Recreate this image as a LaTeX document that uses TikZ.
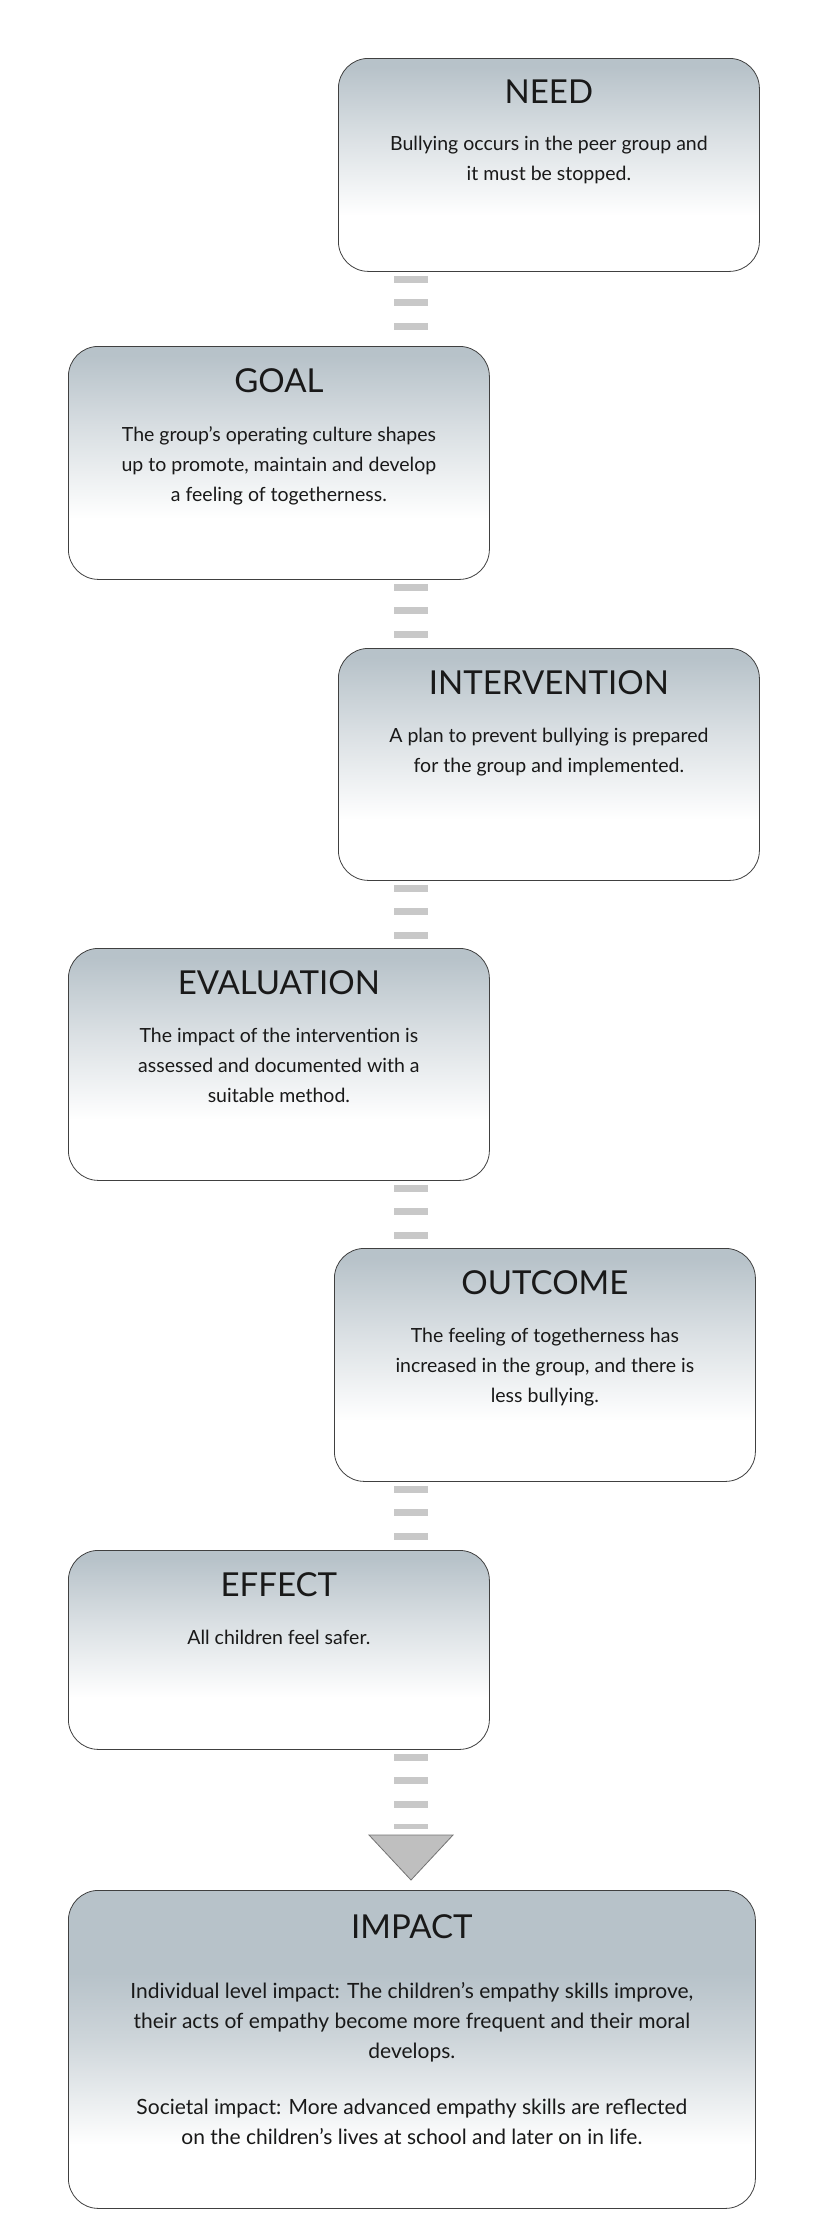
\documentclass[tikz,border=0pt]{standalone}
\usepackage{fontspec}
\setmainfont{Lato}
\usetikzlibrary{backgrounds}
\definecolor{boxgray}{HTML}{B7C2C9}
\definecolor{dashgray}{HTML}{C8C8C8}
\pgfdeclareverticalshading{boxshade}{100bp}{color(0bp)=(white); color(25bp)=(white); color(38bp)=(white); color(58bp)=(boxgray!55); color(73bp)=(boxgray); color(100bp)=(boxgray)}
\pgfdeclareverticalshading{impactshade}{100bp}{color(0bp)=(white); color(25bp)=(white); color(35bp)=(white); color(52bp)=(boxgray!70); color(62bp)=(boxgray); color(100bp)=(boxgray)}
\tikzset{
  stagebox/.style={draw=black!75, line width=0.8pt, rounded corners=30pt, shading=boxshade, minimum width=421pt, inner sep=0pt},
  titletext/.style={anchor=north, font=\fontsize{33}{38}\selectfont, text=black!90, inner sep=0pt},
  bodytext/.style={anchor=north, align=center, font=\fontsize{19.5}{30}\selectfont, text=black!90, inner sep=0pt},
  conn/.style={draw=dashgray, line width=34pt, dash pattern=on 7pt off 16.5pt},
}
\begin{document}
\begin{tikzpicture}[x=1pt,y=1pt]
\useasboundingbox (0,0) rectangle (830,-2217);
% boxes
\node[stagebox, minimum height=213pt, anchor=north west] (need) at (338,-58) {};
\node[stagebox, minimum height=233pt, anchor=north west] (goal) at (68,-346) {};
\node[stagebox, minimum height=232pt, anchor=north west] (interv) at (338,-648) {};
\node[stagebox, minimum height=232pt, anchor=north west] (eval) at (68,-948) {};
\node[stagebox, minimum height=233pt, anchor=north west] (outc) at (334,-1248) {};
\node[stagebox, minimum height=199pt, anchor=north west] (effect) at (68,-1550) {};
\node[stagebox, shading=impactshade, minimum width=687pt, minimum height=318pt, anchor=north west] (impact) at (68,-1890) {};
% texts
\node[titletext] (needT) at ([yshift=-22pt]need.north) {NEED};
\node[bodytext] (needB) at ([yshift=-78pt]need.north) {Bullying occurs in the peer group and\\it must be stopped.};
\node[titletext] (goalT) at ([yshift=-22pt]goal.north) {GOAL};
\node[bodytext] (goalB) at ([yshift=-80pt]goal.north) {The group’s operating culture shapes\\up to promote, maintain and develop\\a feeling of togetherness.};
\node[titletext] (intT) at ([yshift=-22pt]interv.north) {INTERVENTION};
\node[bodytext] (intB) at ([yshift=-80pt]interv.north) {A plan to prevent bullying is prepared\\for the group and implemented.};
\node[titletext] (evalT) at ([yshift=-22pt]eval.north) {EVALUATION};
\node[bodytext] (evalB) at ([yshift=-80pt]eval.north) {The impact of the intervention is\\assessed and documented with a\\suitable method.};
\node[titletext] (outT) at ([yshift=-22pt]outc.north) {OUTCOME};
\node[bodytext] (outB) at ([yshift=-80pt]outc.north) {The feeling of togetherness has\\increased in the group, and there is\\less bullying.};
\node[titletext] (effT) at ([yshift=-22pt]effect.north) {EFFECT};
\node[bodytext] (effB) at ([yshift=-80pt]effect.north) {All children feel safer.};
\node[titletext] (impT) at ([yshift=-24pt]impact.north) {IMPACT};
\node[bodytext, font=\fontsize{21}{30}\selectfont] (impB) at ([yshift=-92pt]impact.north) {Individual level impact: The children’s empathy skills improve,\\their acts of empathy become more frequent and their moral\\develops.\\[26pt]Societal impact: More advanced empathy skills are reflected\\on the children’s lives at school and later on in life.};
% connectors
\coordinate (arrowtop) at (411,-1835);
\coordinate (arrowtip) at (411,-1880);
\begin{scope}[on background layer]
\draw[conn] ([yshift=-4pt]need.south -| 411,0) -- (goal.north -| 411,0);
\draw[conn] ([yshift=-4pt]goal.south -| 411,0) -- (interv.north -| 411,0);
\draw[conn] ([yshift=-4pt]interv.south -| 411,0) -- (eval.north -| 411,0);
\draw[conn] ([yshift=-4pt]eval.south -| 411,0) -- (outc.north -| 411,0);
\draw[conn] ([yshift=-4pt]outc.south -| 411,0) -- (effect.north -| 411,0);
\draw[conn] ([yshift=-4pt]effect.south -| 411,0) -- ([yshift=6pt]arrowtop);
\end{scope}
\draw[fill=black!25, draw=black!55, line width=0.8pt] ([xshift=-42pt]arrowtop) -- ([xshift=42pt]arrowtop) -- (arrowtip) -- cycle;
\end{tikzpicture}
\end{document}
